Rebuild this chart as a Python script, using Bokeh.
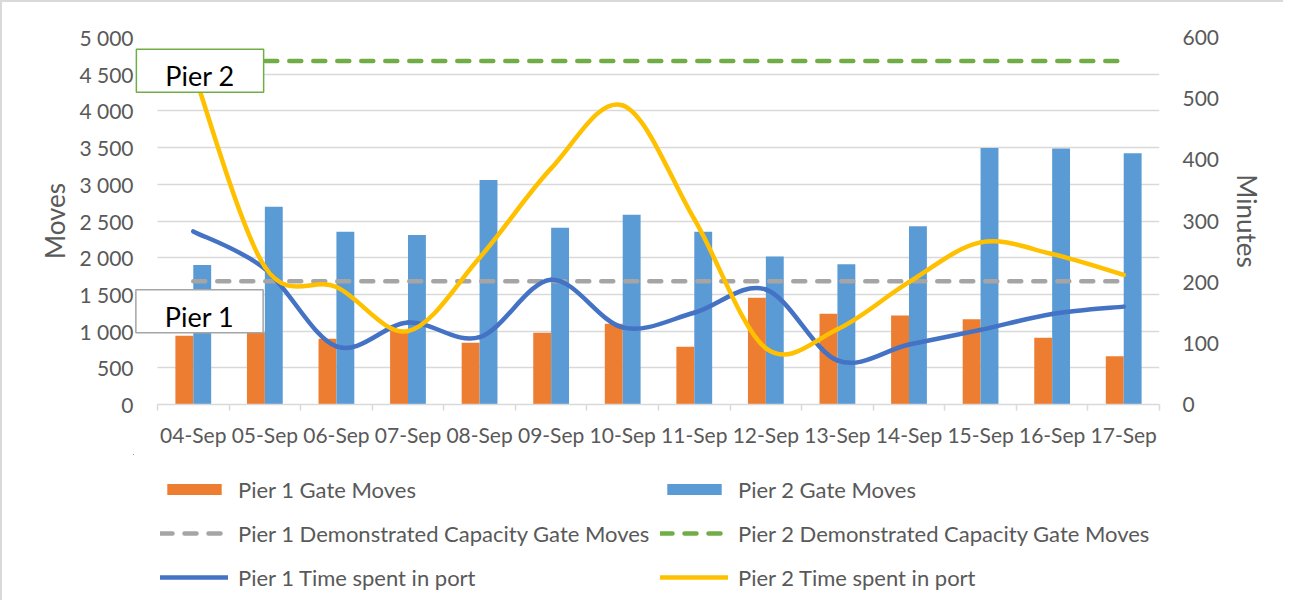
from bokeh.plotting import figure
from bokeh.layouts import column
from bokeh.models import (Range1d, LinearAxis, FixedTicker, Legend, LegendItem,
                          Label, ColumnDataSource, CustomJSTickFormatter)
from bokeh.transform import dodge
from bokeh.embed import file_html
from bokeh.resources import INLINE

# ---------------- data ----------------
dates = ["04-Sep", "05-Sep", "06-Sep", "07-Sep", "08-Sep", "09-Sep", "10-Sep",
         "11-Sep", "12-Sep", "13-Sep", "14-Sep", "15-Sep", "16-Sep", "17-Sep"]
pier1_moves = [935, 983, 895, 1000, 840, 978, 1100, 788, 1454, 1236, 1212, 1162, 910, 658]
pier2_moves = [1902, 2694, 2355, 2310, 3057, 2408, 2585, 2355, 2018, 1910, 2430, 3495, 3487, 3424]
pier1_capacity = [1680] * 14
pier2_capacity = [4680] * 14
pier1_time = [283, 222, 95, 134, 110, 204, 126, 150, 188, 72, 98, 122, 148, 160]
pier2_time = [545, 225, 192, 120, 240, 386, 489, 303, 92, 123, 200, 265, 246, 212]

left_ticks = [0, 500, 1000, 1500, 2000, 2500, 3000, 3500, 4000, 4500, 5000]
right_ticks = [0, 100, 200, 300, 400, 500, 600]

FONT = "Lato"
TXT = "#595959"
GRID = "#d9d9d9"
C_P1BAR, C_P2BAR = "#ED7D31", "#5B9BD5"
C_P1CAP, C_P2CAP = "#A5A5A5", "#70AD47"
C_P1T, C_P2T = "#4472C4", "#FFC000"

n = len(dates)
xc = [i + 0.5 for i in range(n)]
X0 = -24 / 71.6  # a little room left of the first category for the "Pier" boxes

src = ColumnDataSource(dict(x=xc, p1=pier1_moves, p2=pier2_moves, c1=pier1_capacity, c2=pier2_capacity,
                            t1=pier1_time, t2=pier2_time))


def smooth_source(ys):
    """Bezier segments through the data points (Excel-style smoothed line)."""
    xs = xc
    d = dict(x0=[], y0=[], x1=[], y1=[], cx0=[], cy0=[], cx1=[], cy1=[])
    for i in range(len(ys) - 1):
        xa, ya = (xs[i - 1], ys[i - 1]) if i > 0 else (xs[i], ys[i])
        xb, yb = xs[i], ys[i]
        xcc, ycc = xs[i + 1], ys[i + 1]
        xd, yd = (xs[i + 2], ys[i + 2]) if i + 2 < len(ys) else (xs[i + 1], ys[i + 1])
        d["x0"].append(xb); d["y0"].append(yb)
        d["x1"].append(xcc); d["y1"].append(ycc)
        d["cx0"].append(xb + (xcc - xa) / 6.0); d["cy0"].append(yb + (ycc - ya) / 6.0)
        d["cx1"].append(xcc - (xd - xb) / 6.0); d["cy1"].append(ycc - (yd - yb) / 6.0)
    return ColumnDataSource(d)


BORDER = "2px solid #d9d9d9"

p = figure(width=1283, height=454, x_range=Range1d(X0, n), y_range=Range1d(0, 5000),
           output_backend="svg", toolbar_location=None,
           min_border_left=131, min_border_right=126, min_border_top=35, min_border_bottom=52)
p.styles = {"border-left": BORDER, "border-top": BORDER}
p.outline_line_color = None
p.extra_y_ranges = {"min": Range1d(0, 600)}

# grid
p.xgrid.visible = False
p.ygrid.grid_line_color = GRID
p.ygrid.grid_line_width = 1.5
# keep gridlines from running left of the first category
p.quad(left=X0, right=0, bottom=0, top=5000, fill_color="white", line_color=None)

# bottom axis
xa = p.xaxis[0]
xa.ticker = FixedTicker(ticks=xc, minor_ticks=list(range(n + 1)))
xa.formatter = CustomJSTickFormatter(args=dict(labels=dates),
                                     code="return labels[Math.floor(tick)] || '';")
xa.bounds = (0, n)
xa.axis_line_color = GRID
xa.axis_line_width = 1.5
xa.major_tick_line_color = None
xa.major_tick_out = 6
xa.major_tick_in = 0
xa.minor_tick_line_color = GRID
xa.minor_tick_line_width = 1.5
xa.minor_tick_out = 6
xa.minor_tick_in = 0
xa.major_label_standoff = 11
xa.major_label_text_font = FONT
xa.major_label_text_font_size = "21px"
xa.major_label_text_color = TXT

# left axis
ya = p.yaxis[0]
ya.ticker = FixedTicker(ticks=left_ticks)
ya.formatter = CustomJSTickFormatter(code="""
if (tick >= 1000) { return Math.floor(tick/1000) + ' ' + String(tick % 1000).padStart(3, '0'); }
return String(tick);""")
ya.axis_line_color = None
ya.major_tick_line_color = None
ya.minor_tick_line_color = None
ya.major_tick_out = 0
ya.minor_tick_out = 0
ya.major_label_standoff = 0
ya.major_label_text_font = FONT
ya.major_label_text_font_size = "21px"
ya.major_label_text_color = TXT
ya.axis_label = "Moves"
ya.axis_label_text_font = FONT
ya.axis_label_text_font_size = "26px"
ya.axis_label_text_font_style = "normal"
ya.axis_label_text_color = TXT
ya.axis_label_standoff = 5

# right axis
ra = LinearAxis(y_range_name="min", ticker=FixedTicker(ticks=right_ticks))
ra.axis_line_color = None
ra.major_tick_line_color = None
ra.minor_tick_line_color = None
ra.major_tick_out = 0
ra.minor_tick_out = 0
ra.major_label_standoff = 23
ra.major_label_text_font = FONT
ra.major_label_text_font_size = "21px"
ra.major_label_text_color = TXT
ra.axis_label = "Minutes"
ra.axis_label_text_font = FONT
ra.axis_label_text_font_size = "26px"
ra.axis_label_text_font_style = "normal"
ra.axis_label_text_color = TXT
ra.axis_label_standoff = 9
p.add_layout(ra, "right")

# bars
p.vbar(x=dodge("x", -0.125), top="p1", width=0.25, source=src, fill_color=C_P1BAR, line_color=None)
p.vbar(x=dodge("x", 0.125), top="p2", width=0.25, source=src, fill_color=C_P2BAR, line_color=None)

# capacity lines
p.line("x", "c1", source=src, line_color=C_P1CAP, line_width=4.5, line_dash="12 12", line_cap="round")
p.line("x", "c2", source=src, line_color=C_P2CAP, line_width=4.5, line_dash="12 12", line_cap="round")

# time spent lines (smoothed)
p.bezier("x0", "y0", "x1", "y1", "cx0", "cy0", "cx1", "cy1", source=smooth_source(pier1_time),
         y_range_name="min", line_color=C_P1T, line_width=4.5, line_cap="round")
p.bezier("x0", "y0", "x1", "y1", "cx0", "cy0", "cx1", "cy1", source=smooth_source(pier2_time),
         y_range_name="min", line_color=C_P2T, line_width=4.5, line_cap="round")

# labels
lab2 = Label(x=66.5, y=333.8, x_units="screen", y_units="screen", text="Pier 2",
             text_align="center", text_baseline="alphabetic", text_font=FONT, text_font_size="27px",
             text_color="black", background_fill_color="white", border_line_color=C_P2CAP,
             border_line_width=1.5, padding=dict(left=29, right=29, top=10, bottom=0))
lab1 = Label(x=66.0, y=93.2, x_units="screen", y_units="screen", text="Pier 1",
             text_align="center", text_baseline="alphabetic", text_font=FONT, text_font_size="27px",
             text_color="black", background_fill_color="white", border_line_color=C_P1CAP,
             border_line_width=1.5, padding=dict(left=29, right=29, top=10, bottom=0))
p.add_layout(lab2)
p.add_layout(lab1)

# ---------------- legend strip (same series, kept out of its view) ----------------
q = figure(width=1283, height=146, x_range=Range1d(100, 101), y_range=Range1d(-2, -1),
           output_backend="svg", toolbar_location=None, min_border=0,
           x_axis_location=None, y_axis_location=None)
q.styles = {"border-left": BORDER}
q.outline_line_color = None
q.grid.visible = False
g1 = q.vbar(x="x", top="p1", width=0.25, source=src, fill_color=C_P1BAR, line_color=None)
g2 = q.vbar(x="x", top="p2", width=0.25, source=src, fill_color=C_P2BAR, line_color=None)
g3 = q.line("x", "c1", source=src, line_color=C_P1CAP, line_width=4.5, line_dash="12 12", line_cap="round")
g4 = q.line("x", "c2", source=src, line_color=C_P2CAP, line_width=4.5, line_dash="12 12", line_cap="round")
g5 = q.line("x", "t1", source=src, line_color=C_P1T, line_width=4.5, line_cap="round")
g6 = q.line("x", "t2", source=src, line_color=C_P2T, line_width=4.5, line_cap="round")

legend = Legend(items=[
    LegendItem(label="Pier 1 Gate Moves", renderers=[g1]),
    LegendItem(label="Pier 1 Demonstrated Capacity Gate Moves", renderers=[g3]),
    LegendItem(label="Pier 1 Time spent in port", renderers=[g5]),
    LegendItem(label="Pier 2 Gate Moves", renderers=[g2]),
    LegendItem(label="Pier 2 Demonstrated Capacity Gate Moves", renderers=[g4]),
    LegendItem(label="Pier 2 Time spent in port", renderers=[g6]),
], location=(27, 4.5), orientation="vertical", nrows=3, ncols=2,
    glyph_width=68, glyph_height=14, label_standoff=10, spacing=7, label_height=37, label_width=415,
    label_text_font=FONT, label_text_font_size="22px", label_text_color=TXT,
    border_line_color=None, background_fill_alpha=0, padding=0, margin=0)
q.add_layout(legend, "center")

open("out.html", "w").write(file_html(column(p, q, spacing=0), INLINE))
